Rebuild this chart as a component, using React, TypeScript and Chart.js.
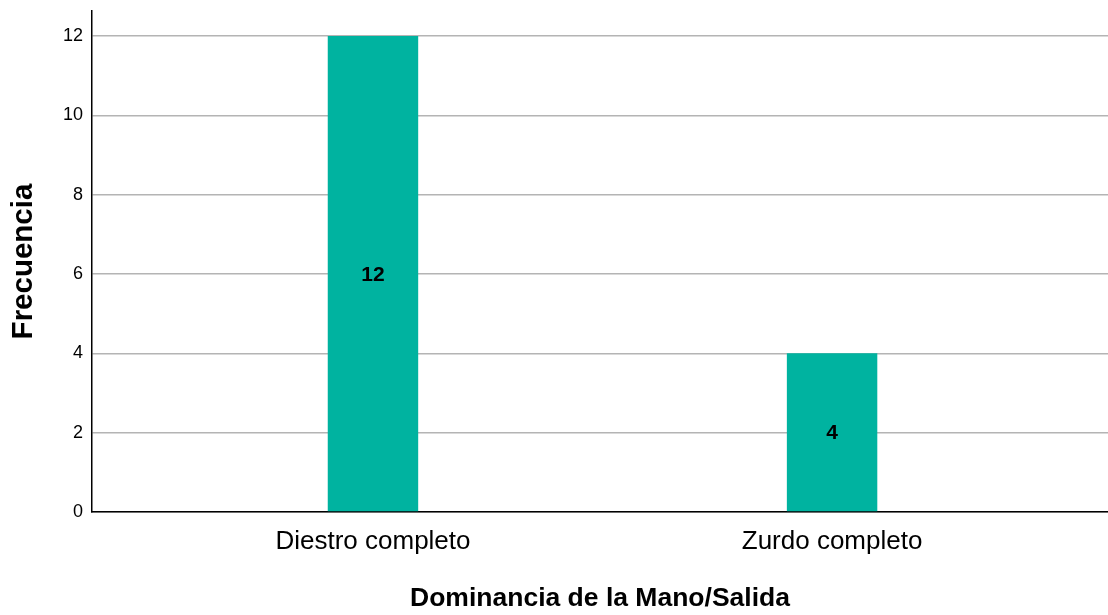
import React, { useEffect, useRef } from "react";
import { Chart, registerables } from "chart.js";

Chart.register(...registerables);

const categories = ["Diestro completo", "Zurdo completo"];
const positions = [0, 1];
const frequencies = [12, 4];
const yTicks = [0, 2, 4, 6, 8, 10, 12];

const SANS = "'Liberation Sans', Arial, sans-serif";

const valueLabels = {
  id: "valueLabels",
  afterDatasetsDraw(chart: any) {
    const ctx = chart.ctx;
    const meta = chart.getDatasetMeta(0);
    ctx.save();
    ctx.font = `bold 21px ${SANS}`;
    ctx.fillStyle = "#000";
    ctx.textAlign = "center";
    ctx.textBaseline = "middle";
    meta.data.forEach((bar: any, i: number) => {
      const y = chart.scales.y.getPixelForValue(frequencies[i] / 2);
      ctx.fillText(String(frequencies[i]), bar.x, y + 1);
    });
    ctx.restore();
  },
};

export default function App() {
  const ref = useRef<HTMLCanvasElement>(null);
  useEffect(() => {
    const chart = new Chart(ref.current!, {
      type: "bar",
      data: {
        datasets: [
          {
            data: positions.map((p, i) => ({ x: p, y: frequencies[i] })),
            backgroundColor: "#00b3a0",
            barPercentage: 0.197,
            categoryPercentage: 1,
          },
        ],
      },
      plugins: [valueLabels],
      options: {
        animation: false,
        responsive: false,
        layout: { padding: { top: 11, right: 0, left: 0, bottom: 0 } },
        plugins: { legend: { display: false }, tooltip: { enabled: false } },
        scales: {
          x: {
            type: "linear",
            offset: false,
            min: -0.612,
            max: 1.601,
            afterFit: (s: any) => {
              s.height = 103;
              s.paddingLeft = 0;
              s.paddingRight = 0;
            },
            afterBuildTicks: (s: any) => {
              s.ticks = positions.map((v) => ({ value: v }));
            },
            grid: { display: false, drawTicks: false },
            border: { display: true, color: "#000", width: 1.5 },
            ticks: {
              padding: 14,
              color: "#000",
              font: { family: SANS, size: 26 },
              maxRotation: 0,
              autoSkip: false,
              callback: (v: any) => {
                const idx = positions.indexOf(Number(v));
                return idx >= 0 ? categories[idx] : "";
              },
            },
            title: {
              display: true,
              text: "Dominancia de la Mano/Salida",
              color: "#000",
              font: { family: SANS, size: 26.5, weight: "bold" },
              padding: { top: 0, bottom: 0 },
            },
          },
          y: {
            min: 0,
            max: 12.63,
            afterFit: (s: any) => {
              s.width = 92;
              s.paddingTop = 0;
              s.paddingBottom = 0;
            },
            afterBuildTicks: (s: any) => {
              s.ticks = yTicks.map((v) => ({ value: v }));
            },
            grid: { color: "#b4b4b4", lineWidth: 1.5, drawTicks: false },
            border: { display: true, color: "#000", width: 1.5 },
            ticks: {
              padding: 9,
              color: "#000",
              font: { family: SANS, size: 18 },
            },
            title: {
              display: true,
              text: "Frecuencia",
              color: "#000",
              font: { family: SANS, size: 29.5, weight: "bold" },
              padding: { top: 6, bottom: 0 },
            },
          },
        },
      },
    });
    return () => chart.destroy();
  }, []);
  return (
    <div style={{ position: "fixed", left: 0, top: 0, width: 1108, height: 615, background: "#fff" }}>
      <canvas ref={ref} width={1108} height={615} style={{ display: "block" }} />
    </div>
  );
}
